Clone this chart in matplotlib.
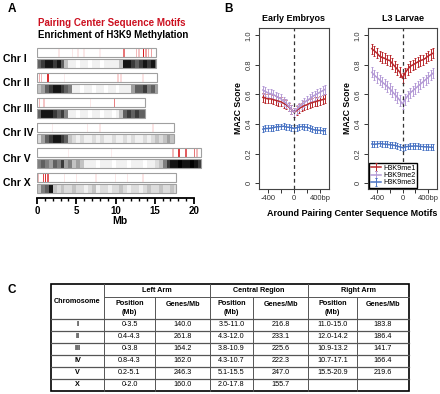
import numpy as np
import matplotlib.pyplot as plt
from matplotlib.patches import Rectangle

plt.rcParams['font.family'] = ['Liberation Sans', 'DejaVu Sans']

# ---------------- Panel A data ----------------
chr_names = ['Chr I', 'Chr II', 'Chr III', 'Chr IV', 'Chr V', 'Chr X']
chr_len = [15.1, 15.3, 13.8, 17.5, 20.9, 17.7]   # Mb
bin_mb = 0.5

# H3K9 methylation enrichment (darkness 0-9 per 0.5 Mb bin)
meth_I = [6, 7, 8, 8, 7, 8, 6, 3, 1, 1, 0, 1, 1, 0, 1, 1, 0, 1, 1, 1, 1, 3, 8, 8, 7, 6, 7, 8, 7, 8, 6]
meth_II = [3, 4, 6, 7, 8, 8, 7, 6, 5, 1, 1, 0, 1, 1, 0, 1, 1, 0, 1, 1, 0, 1, 1, 1, 4, 6, 6, 7, 5, 6, 4]
meth_III = [6, 8, 8, 8, 7, 6, 7, 5, 1, 1, 0, 1, 1, 0, 1, 1, 0, 1, 1, 0, 1, 3, 6, 7, 6, 7, 6, 6]
meth_IV = [2, 4, 6, 7, 8, 8, 7, 6, 3, 2, 1, 2, 1, 1, 2, 1, 2, 1, 1, 2,
           1, 1, 2, 1, 2, 1, 1, 2, 1, 2, 3, 2, 3, 4, 3]
meth_V = [5, 6, 5, 4, 6, 5, 7, 4, 5, 3, 4, 3, 1, 1, 1, 0, 1, 1, 1, 0,
          1, 1, 1, 0, 1, 1, 1, 0, 1, 1, 2, 3, 5, 7, 8, 8, 9, 8, 8, 9, 8, 7]
meth_X = [3, 5, 6, 8, 3, 2, 3, 2, 2, 3, 2, 2, 1, 2, 3, 1, 2, 2, 1, 2,
          2, 3, 2, 1, 2, 2, 1, 2, 3, 2, 2, 3, 2, 2, 3, 2]
meth_all = [meth_I, meth_II, meth_III, meth_IV, meth_V, meth_X]

# pairing center motif clusters: (position Mb, intensity)
pc_I = [(2.8, 0.1), (4.5, 0.1), (5.2, 0.1), (6.0, 0.1), (8.0, 0.08), (11.1, 0.6), (12.7, 0.3),
        (13.0, 0.25), (13.6, 1.0), (13.9, 0.4), (14.2, 0.35), (14.6, 0.4)]
pc_II = [(0.3, 0.35), (0.6, 0.3), (1.4, 0.9), (3.5, 0.08), (10.3, 0.2), (10.7, 0.15), (13.5, 0.12)]
pc_III = [(0.1, 0.35), (0.35, 0.3), (0.9, 0.25), (6.8, 0.1), (9.9, 0.55)]
pc_IV = [(0.1, 0.5), (2.0, 0.08), (6.4, 0.1), (8.0, 0.1), (14.8, 0.12)]
pc_V = [(4.0, 0.08), (9.5, 0.08), (17.3, 0.3), (18.1, 0.85), (19.0, 0.7), (20.1, 0.6), (20.4, 0.3)]
pc_X = [(0.2, 0.3), (0.8, 0.8), (1.1, 0.9), (1.4, 0.7), (3.5, 0.1), (5.0, 0.1),
        (7.5, 0.1), (10.0, 0.1), (11.5, 0.1), (13.5, 0.12)]
pc_all = [pc_I, pc_II, pc_III, pc_IV, pc_V, pc_X]

# ---------------- Panel B data ----------------
dist = np.arange(-480, 481, 40)
emb_me1 = [0.58, 0.575, 0.57, 0.57, 0.565, 0.56, 0.555, 0.55, 0.54, 0.53, 0.515, 0.50, 0.48,
           0.49, 0.505, 0.515, 0.525, 0.53, 0.54, 0.545, 0.55, 0.555, 0.56, 0.565, 0.57]
emb_me2 = [0.63, 0.62, 0.61, 0.605, 0.60, 0.59, 0.58, 0.57, 0.555, 0.54, 0.52, 0.50, 0.48,
           0.50, 0.515, 0.53, 0.545, 0.56, 0.57, 0.585, 0.595, 0.605, 0.615, 0.625, 0.635]
emb_me3 = [0.365, 0.37, 0.37, 0.372, 0.375, 0.38, 0.382, 0.383, 0.385, 0.38, 0.378, 0.375, 0.37,
           0.375, 0.38, 0.383, 0.38, 0.378, 0.372, 0.365, 0.36, 0.358, 0.357, 0.355, 0.355]
l3_me1 = [0.91, 0.895, 0.88, 0.86, 0.85, 0.845, 0.835, 0.83, 0.81, 0.79, 0.77, 0.75, 0.71,
          0.745, 0.77, 0.79, 0.80, 0.81, 0.82, 0.83, 0.835, 0.845, 0.86, 0.87, 0.88]
l3_me2 = [0.75, 0.73, 0.715, 0.70, 0.685, 0.67, 0.655, 0.64, 0.62, 0.60, 0.58, 0.56, 0.535,
          0.565, 0.59, 0.61, 0.625, 0.64, 0.655, 0.67, 0.685, 0.70, 0.715, 0.73, 0.745]
l3_me3 = [0.265, 0.262, 0.265, 0.268, 0.266, 0.264, 0.262, 0.26, 0.258, 0.255, 0.25, 0.245, 0.24,
          0.245, 0.248, 0.25, 0.25, 0.252, 0.25, 0.248, 0.247, 0.245, 0.245, 0.243, 0.242]
emb_err = [0.03, 0.03, 0.02]
l3_err = [0.035, 0.035, 0.02]
series_names = ['H3K9me1', 'H3K9me2', 'H3K9me3']
series_colors = ['#B8282C', '#B49AD6', '#4A74C4']

# ---------------- Panel C data ----------------
tab_chrom = ['I', 'II', 'III', 'IV', 'V', 'X']
left_pos = ['0-3.5', '0.4-4.3', '0-3.8', '0.8-4.3', '0.2-5.1', '0-2.0']
left_genes = ['140.0', '261.8', '164.2', '162.0', '246.3', '160.0']
central_pos = ['3.5-11.0', '4.3-12.0', '3.8-10.9', '4.3-10.7', '5.1-15.5', '2.0-17.8']
central_genes = ['216.8', '233.1', '225.6', '222.3', '247.0', '155.7']
right_pos = ['11.0-15.0', '12.0-14.2', '10.9-13.2', '10.7-17.1', '15.5-20.9', '']
right_genes = ['183.8', '186.4', '141.7', '166.4', '219.6', '']

W, H = 440, 394
fig = plt.figure(figsize=(W / 100, H / 100), dpi=100)


def fax(x0, y0, x1, y1):
    # axes from pixel box (top-left origin)
    return fig.add_axes([x0 / W, 1 - y1 / H, (x1 - x0) / W, (y1 - y0) / H])


# ---------------- Panel A ----------------
axA = fax(37, 44, 37 + 21.2 * 7.85, 198)
axA.set_xlim(0, 21.2)
axA.set_ylim(198, 44)
red = '#D7191C'
for i in range(6):
    top_r = 48 + 25 * i
    top_g = 59 + 25 * i
    L = chr_len[i]
    vals = np.array(meth_all[i], dtype=float)
    edges = np.minimum(np.arange(len(vals) + 1) * bin_mb, L)
    axA.pcolormesh(edges, [top_g, top_g + 9.5], vals[None, :], cmap='Greys',
                   vmin=0, vmax=8.6, shading='flat')
    for pos, inten in pc_all[i]:
        axA.bar(pos, 9, width=0.18, bottom=top_r, color=red, alpha=inten, linewidth=0)
    axA.add_patch(Rectangle((0, top_r), L, 9, fill=False, ec='#A0A0A0', lw=0.8))
    axA.add_patch(Rectangle((0, top_g), L, 9.5, fill=False, ec='#A0A0A0', lw=0.8))
    fig.text(3 / W, 1 - (58.5 + 25 * i) / H, chr_names[i], fontsize=7.5,
             fontweight='bold', va='center', ha='left')

for s in ['top', 'right', 'left']:
    axA.spines[s].set_visible(False)
axA.spines['bottom'].set_bounds(0, 20)
axA.spines['bottom'].set_linewidth(1.3)
axA.set_yticks([])
axA.set_xticks([0, 5, 10, 15, 20])
axA.set_xticks(np.arange(0, 21, 1), minor=True)
axA.tick_params(axis='x', which='major', length=4, width=1.3, labelsize=7, pad=2)
axA.tick_params(axis='x', which='minor', length=2.5, width=1.0)
for lab in axA.get_xticklabels():
    lab.set_fontweight('bold')
axA.set_xlabel('Mb', fontsize=7.5, fontweight='bold', labelpad=0)

fig.text(8 / W, 1 - 9 / H, 'A', fontsize=8.5, fontweight='bold', va='center')
fig.text(38 / W, 1 - 23 / H, 'Pairing Center Sequence Motifs', color='#CC1020',
         fontsize=7, fontweight='bold', va='center')
fig.text(38 / W, 1 - 35 / H, 'Enrichment of H3K9 Methylation', color='black',
         fontsize=7, fontweight='bold', va='center')

# ---------------- Panel B ----------------
fig.text(224 / W, 1 - 9 / H, 'B', fontsize=8.5, fontweight='bold', va='center')
panels = [(259, 329, 'Early Embryos', [emb_me1, emb_me2, emb_me3], emb_err),
          (368, 437, 'L3 Larvae', [l3_me1, l3_me2, l3_me3], l3_err)]
for k, (x0, x1, title, ser, errs) in enumerate(panels):
    ax = fax(x0, 28, x1, 189)
    for y, e, c, n in zip(ser, errs, series_colors, series_names):
        ax.errorbar(dist, y, yerr=e, color=c, lw=1.1, elinewidth=0.7, capsize=1.0,
                    capthick=0.7, label=n)
    ax.axvline(0, color='#333333', lw=0.9, ls=(0, (3, 2.5)))
    ax.set_xlim(-540, 540)
    ax.set_ylim(-0.04, 1.05)
    ax.set_yticks([0, 0.2, 0.4, 0.6, 0.8, 1.0])
    ax.set_yticklabels(['0', '0.2', '0.4', '0.6', '0.8', '1.0'], rotation=90, va='center')
    ax.set_xticks([-400, -200, 0, 200, 400])
    ax.set_xticklabels(['-400', '', '0', '', '400bp'])
    ax.tick_params(length=3, width=0.7, labelsize=5.5, pad=1.5, colors='#333333')
    for s in ax.spines.values():
        s.set_linewidth(0.8)
        s.set_color('#444444')
    ax.set_title(title, fontsize=6.5, fontweight='bold', pad=5)
    ax.set_ylabel('MA2C Score', fontsize=6.3, fontweight='bold', labelpad=2)
    if k == 1:
        ax.legend(loc='lower left', fontsize=5.2, handlelength=1.5, labelspacing=0.05,
                  borderpad=0.2, handletextpad=0.3, borderaxespad=0.15, fancybox=False,
                  edgecolor='black', framealpha=1)
fig.text(352 / W, 1 - 213 / H, 'Around Pairing Center Sequence Motifs', fontsize=6.5,
         fontweight='bold', ha='center', va='center')

# ---------------- Panel C ----------------
fig.text(8 / W, 1 - 290 / H, 'C', fontsize=8.5, fontweight='bold', va='center')
axT = fig.add_axes([0, 0, 1, 1])
axT.set_xlim(0, W)
axT.set_ylim(H, 0)
axT.axis('off')
cx = [51, 104, 155, 210, 253, 308, 357, 409]
ry = [284, 297, 319, 331, 343, 355, 367, 379, 391]
lc = '#555555'
# horizontal lines
axT.plot([cx[1], cx[-1]], [ry[1], ry[1]], color=lc, lw=0.7)
for r in ry[2:-1]:
    axT.plot([cx[0], cx[-1]], [r, r], color=lc, lw=0.9)
# vertical lines
for c in [cx[1], cx[3], cx[5]]:
    axT.plot([c, c], [ry[0], ry[-1]], color=lc, lw=0.7)
for c in [cx[2], cx[4], cx[6]]:
    axT.plot([c, c], [ry[1], ry[-1]], color=lc, lw=0.7)
axT.add_patch(Rectangle((cx[0], ry[0]), cx[-1] - cx[0], ry[-1] - ry[0], fill=False,
                        ec='black', lw=1.2))

fs = 5.2
axT.text((cx[0] + cx[1]) / 2, (ry[0] + ry[2]) / 2, 'Chromosome', fontsize=fs,
         fontweight='bold', ha='center', va='center')
for j, grp in enumerate(['Left Arm', 'Central Region', 'Right Arm']):
    axT.text((cx[1 + 2 * j] + cx[3 + 2 * j]) / 2, (ry[0] + ry[1]) / 2, grp, fontsize=fs,
             fontweight='bold', ha='center', va='center')
    axT.text((cx[1 + 2 * j] + cx[2 + 2 * j]) / 2, (ry[1] + ry[2]) / 2, 'Position\n(Mb)',
             fontsize=fs, fontweight='bold', ha='center', va='center', linespacing=1.3)
    axT.text((cx[2 + 2 * j] + cx[3 + 2 * j]) / 2, (ry[1] + ry[2]) / 2 - 4, 'Genes/Mb',
             fontsize=fs, fontweight='bold', ha='center', va='center')

cols = [tab_chrom, left_pos, left_genes, central_pos, central_genes, right_pos, right_genes]
for i in range(6):
    ymid = (ry[2 + i] + ry[3 + i]) / 2
    for j, col in enumerate(cols):
        axT.text((cx[j] + cx[j + 1]) / 2, ymid, col[i], fontsize=fs,
                 fontweight='bold' if j == 0 else 'normal', ha='center', va='center')

fig.savefig('out.png', dpi=100)
